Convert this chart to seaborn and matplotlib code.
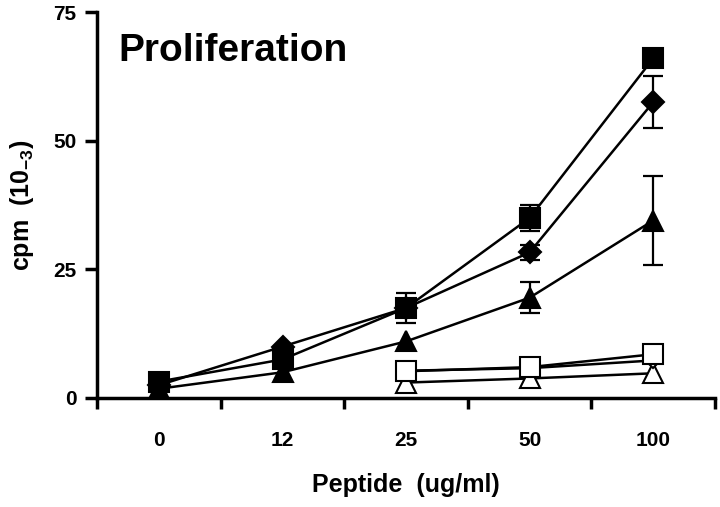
import numpy as np
import pandas as pd
import matplotlib
matplotlib.use("Agg")
import matplotlib.pyplot as plt
import seaborn as sns

sns.set_style("ticks")
plt.rcParams["font.family"] = ["Liberation Sans", "DejaVu Sans"]
plt.rcParams["font.weight"] = "bold"
plt.rcParams["mathtext.fontset"] = "custom"
plt.rcParams["mathtext.rm"] = "Liberation Sans:bold"
plt.rcParams["mathtext.it"] = "Liberation Sans:bold"
plt.rcParams["mathtext.bf"] = "Liberation Sans:bold"
for k in ["text.color", "axes.labelcolor", "xtick.color", "ytick.color", "axes.edgecolor"]:
    plt.rcParams[k] = "black"

# peptide doses (categorical, equally spaced on the axis)
doses = ["0", "12", "25", "50", "100"]

filled_square = [3.2, 7.5, 17.5, 35.0, 66.0]
filled_square_err = [0.0, 0.0, 3.0, 2.5, 0.0]
filled_diamond = [2.5, 10.0, 17.5, 28.3, 57.5]
filled_diamond_err = [0.0, 0.0, 0.0, 1.5, 5.0]
filled_triangle = [1.8, 5.0, 11.0, 19.5, 34.5]
filled_triangle_err = [0.0, 0.0, 0.0, 3.0, 8.7]
open_square = [np.nan, np.nan, 5.2, 6.0, 8.5]
open_diamond = [np.nan, np.nan, 5.3, 5.8, 7.3]
open_triangle = [np.nan, np.nan, 3.0, 3.8, 4.8]

series = [
    ("open_triangle", open_triangle, None, "^", "white", 14),
    ("open_diamond", open_diamond, None, "D", "white", 8),
    ("open_square", open_square, None, "s", "white", 14),
    ("filled_triangle", filled_triangle, filled_triangle_err, "^", "black", 14),
    ("filled_square", filled_square, filled_square_err, "s", "black", 14),
    ("filled_diamond", filled_diamond, filled_diamond_err, "D", "black", 11),
]

fig, ax = plt.subplots(figsize=(7.2, 5.07), dpi=100)
fig.subplots_adjust(left=0.135, right=0.993, bottom=0.215, top=0.976)

pos = np.arange(len(doses))
for z, (name, vals, err, mk, face, ms) in enumerate(series):
    df = pd.DataFrame({"pos": pos, "cpm": vals}).dropna()
    if err is not None:
        e = np.array(err)
        keep = e > 0
        ax.errorbar(pos[keep], np.array(vals)[keep], yerr=e[keep], fmt="none",
                    ecolor="black", elinewidth=1.6, capsize=7, capthick=1.6,
                    zorder=2 + z)
    sns.lineplot(data=df, x="pos", y="cpm", ax=ax, color="black", lw=1.8,
                 marker=mk, markersize=ms, markerfacecolor=face,
                 markeredgecolor="black", markeredgewidth=1.5, zorder=3 + z)

ax.set_xlim(-0.5, len(doses) - 0.5)
ax.set_ylim(0, 75)
ax.set_xticks(pos)
ax.set_xticklabels(doses, fontsize=15, fontweight="bold")
ax.set_xticks(np.arange(-0.5, len(doses), 1.0), minor=True)
ax.tick_params(axis="x", which="major", length=0, pad=24)
ax.tick_params(axis="x", which="minor", length=8, width=2.5, direction="out")
ax.set_yticks([0, 25, 50, 75])
ax.set_yticklabels(["0", "25", "50", "75"], fontsize=15, fontweight="bold")
ax.tick_params(axis="y", length=9, width=2.5, direction="out", pad=6)

sns.despine(ax=ax)
for s in ["left", "bottom"]:
    ax.spines[s].set_linewidth(2.5)

ax.set_xlabel("Peptide  (ug/ml)", fontsize=18, fontweight="bold", labelpad=16)
ax.set_ylabel("cpm  (10$_{-3}$)", fontsize=18, fontweight="bold", labelpad=12)
ax.text(0.035, 0.9, "Proliferation", transform=ax.transAxes,
        fontsize=28, fontweight="bold", va="center", ha="left")

fig.savefig("out.png", dpi=100)
